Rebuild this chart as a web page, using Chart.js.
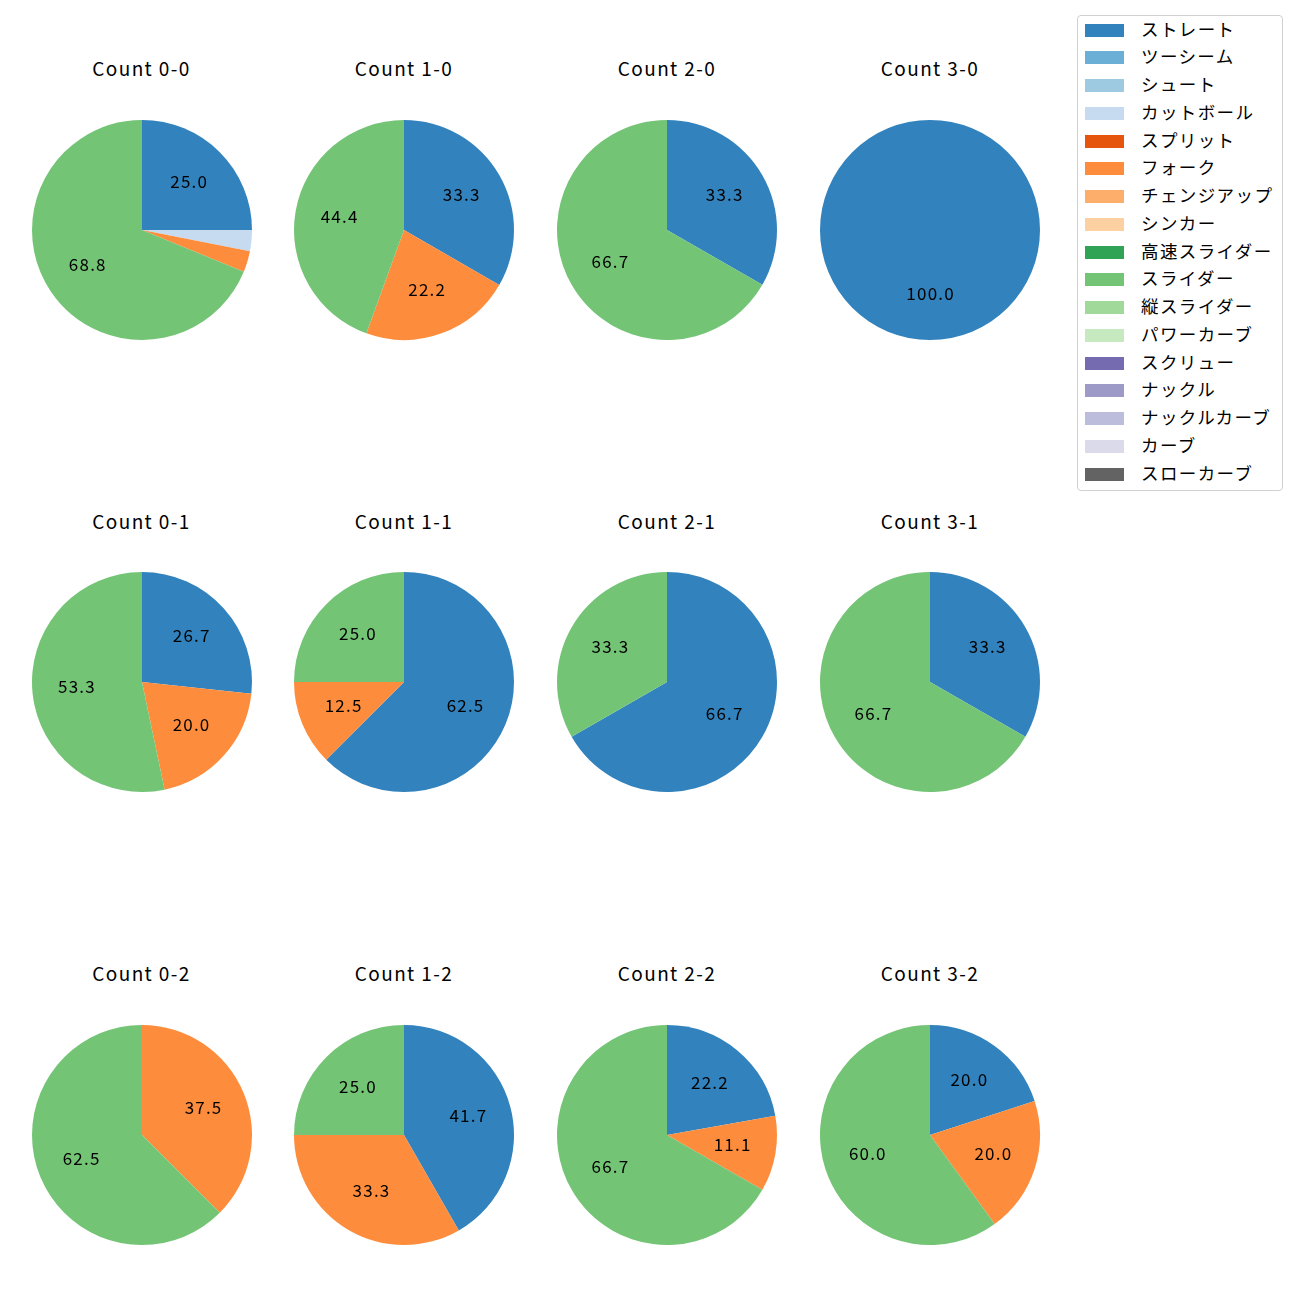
<!DOCTYPE html>
<html>
<head>
<meta charset="utf-8">
<script src="https://cdn.jsdelivr.net/npm/chart.js@4.4.1/dist/chart.umd.min.js"></script>
<style>
  body { margin: 0; background: #fff; font-family: "Noto Sans CJK JP", sans-serif; }
  #wrap { position: relative; width: 1300px; height: 1300px; }
  .pie { position: absolute; }
  .title { position: absolute; width: 240px; text-align: center; font-size: 19px; color: #000; line-height: 1; letter-spacing: 1.4px; }
  #legend { position: absolute; left: 1077px; top: 15px; width: 204px; height: 474px;
    border: 1px solid #d0d0d0; border-radius: 4px; }
  .item { position: absolute; left: 0; height: 20px; }
  .swatch { position: absolute; left: 7px; width: 39px; height: 13px; }
  .label { position: absolute; left: 63px; font-size: 17.5px; line-height: 1; white-space: nowrap; letter-spacing: 1.4px; }
</style>
</head>
<body>
<div id="wrap"><div id="legend"></div></div>
<script>
// pitch types and colours (legend order)
const pitchTypes = ['ストレート', 'ツーシーム', 'シュート', 'カットボール', 'スプリット', 'フォーク',
  'チェンジアップ', 'シンカー', '高速スライダー', 'スライダー', '縦スライダー', 'パワーカーブ',
  'スクリュー', 'ナックル', 'ナックルカーブ', 'カーブ', 'スローカーブ'];
const pitchColors = ['#3182bd', '#6baed6', '#9ecae1', '#c6dbef', '#e6550d', '#fd8d3c',
  '#fdae6b', '#fdd0a2', '#31a354', '#74c476', '#a1d99b', '#c7e9c0',
  '#756bb1', '#9e9ac8', '#bcbddc', '#dadaeb', '#636363'];

// counts, row by row
const counts = ['0-0', '1-0', '2-0', '3-0', '0-1', '1-1', '2-1', '3-1', '0-2', '1-2', '2-2', '3-2'];

// share (%) per count for the pitch types that appear
const straight = [25.0, 33.3, 33.3, 100.0, 26.7, 62.5, 66.7, 33.3, 0, 41.7, 22.2, 20.0];
const cutter   = [3.1, 0, 0, 0, 0, 0, 0, 0, 0, 0, 0, 0];
const fork     = [3.1, 22.2, 0, 0, 20.0, 12.5, 0, 0, 37.5, 33.3, 11.1, 20.0];
const slider   = [68.8, 44.4, 66.7, 0, 53.3, 25.0, 33.3, 66.7, 62.5, 25.0, 66.7, 60.0];

const seriesByType = { 'ストレート': straight, 'カットボール': cutter, 'フォーク': fork, 'スライダー': slider };

const colX = [141.5, 404, 667, 930];
const rowY = [229.5, 682, 1135];
const titleY = [69, 522, 974];

// percentage labels at 0.6 of the radius, like autopct
const pctLabels = {
  id: 'pctLabels',
  afterDatasetsDraw(chart) {
    const ctx = chart.ctx;
    const data = chart.data.datasets[0].data;
    const total = data.reduce((a, b) => a + b, 0);
    chart.getDatasetMeta(0).data.forEach((arc, i) => {
      const pct = data[i] / total * 100;
      if (pct < 5) return;
      const p = arc.getProps(['x', 'y', 'startAngle', 'endAngle', 'outerRadius'], true);
      const mid = (p.startAngle + p.endAngle) / 2;
      const r = p.outerRadius * 0.6;
      ctx.save();
      ctx.font = '17px "Noto Sans CJK JP"';
      ctx.letterSpacing = '1.2px';
      ctx.fillStyle = '#000';
      ctx.textAlign = 'center';
      ctx.textBaseline = 'middle';
      ctx.fillText(pct.toFixed(1), p.x + Math.cos(mid) * r + 0.6, p.y + Math.sin(mid) * r - 2);
      ctx.restore();
    });
  }
};

const wrap = document.getElementById('wrap');
counts.forEach((c, k) => {
  const col = k % 4, row = Math.floor(k / 4);
  const cv = document.createElement('canvas');
  cv.className = 'pie';
  cv.width = 240; cv.height = 240;
  cv.style.left = (colX[col] - 120) + 'px';
  cv.style.top = (rowY[row] - 120) + 'px';
  cv.style.width = '240px'; cv.style.height = '240px';
  wrap.appendChild(cv);

  const t = document.createElement('div');
  t.className = 'title';
  t.textContent = 'Count ' + c;
  t.style.left = (colX[col] - 120) + 'px';
  t.style.top = (titleY[row] - 11) + 'px';
  wrap.appendChild(t);

  new Chart(cv, {
    type: 'pie',
    data: {
      labels: pitchTypes,
      datasets: [{
        data: pitchTypes.map(p => seriesByType[p] ? seriesByType[p][k] : 0),
        backgroundColor: pitchColors,
        borderWidth: 0
      }]
    },
    options: {
      responsive: false,
      animation: false,
      layout: { padding: 10 },
      plugins: { legend: { display: false }, tooltip: { enabled: false } }
    },
    plugins: [pctLabels]
  });
});

// legend
const legend = document.getElementById('legend');
pitchTypes.forEach((p, i) => {
  const item = document.createElement('div');
  item.className = 'item';
  item.style.top = (7.5 + i * 27.75) + 'px';
  item.innerHTML = '<div class="swatch" style="background:' + pitchColors[i] + '"></div>' +
    '<div class="label" style="top:-4px">' + p + '</div>';
  legend.appendChild(item);
});
</script>
</body>
</html>
